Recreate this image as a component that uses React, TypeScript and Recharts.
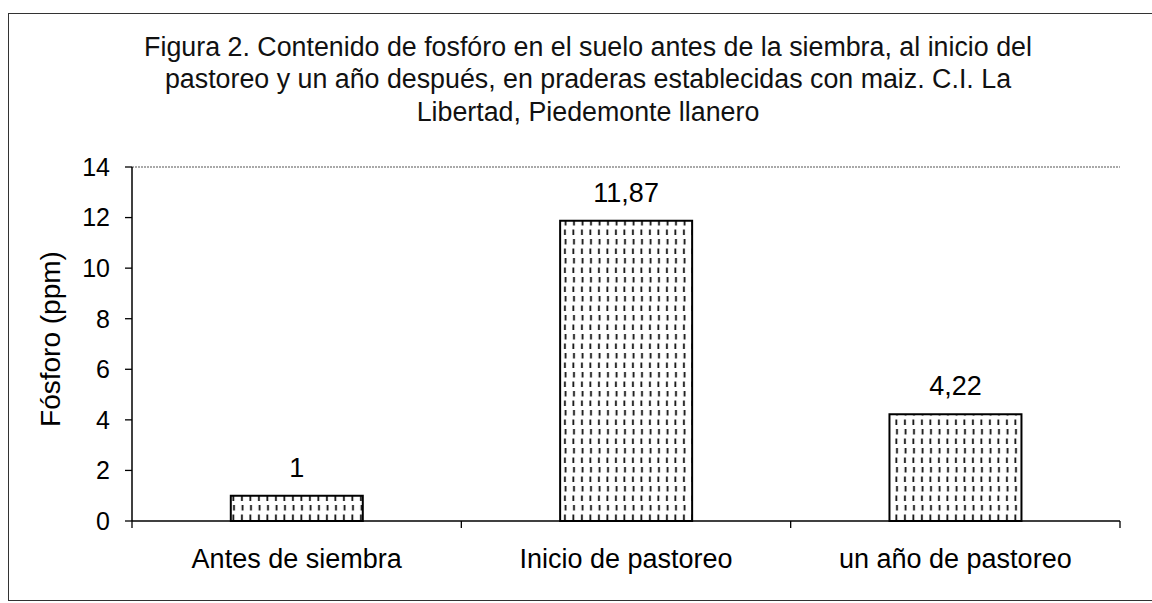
import React from 'react';
import { BarChart, Bar, XAxis, YAxis, LabelList, ReferenceLine } from 'recharts';

const categories = ['Antes de siembra', 'Inicio de pastoreo', 'un año de pastoreo'];
const fosforo = [1, 11.87, 4.22];
const yTicks = [0, 2, 4, 6, 8, 10, 12, 14];
const titleLines = [
  'Figura 2. Contenido de fosfóro en el suelo antes de la siembra, al inicio del',
  'pastoreo y un año después, en praderas establecidas con maiz. C.I. La',
  'Libertad, Piedemonte llanero',
];
const yLabel = 'Fósforo (ppm)';

const data = categories.map((c, i) => ({ name: c, value: fosforo[i] }));

const FONT = '"Liberation Sans", Arial, sans-serif';

const XTick = (props: any) => {
  const { x, y, payload, index } = props;
  const off = payload.offset || 0;
  const axisY = y - 8;
  return (
    <g>
      {index === 0 && (
        <line x1={x - off} x2={x - off} y1={axisY} y2={axisY + 7} stroke="#000" strokeWidth={1.3} />
      )}
      <line x1={x + off} x2={x + off} y1={axisY} y2={axisY + 7} stroke="#000" strokeWidth={1.3} />
      <text x={x} y={y} dy={39} textAnchor="middle" fontSize={27} fill="#000" fontFamily={FONT}>
        {payload.value}
      </text>
    </g>
  );
};

const YLabel = (props: any) => {
  const { viewBox } = props;
  const cx = 50;
  const cy = viewBox.y + viewBox.height / 2 - 5;
  return (
    <text
      x={cx}
      y={cy}
      transform={`rotate(-90, ${cx}, ${cy})`}
      textAnchor="middle"
      dominantBaseline="central"
      fontSize={28}
      fill="#000"
      fontFamily={FONT}
    >
      {yLabel}
    </text>
  );
};

export default function App() {
  return (
    <div style={{ position: 'absolute', left: 0, top: 0, width: 1152, height: 603, background: '#fff', overflow: 'hidden', fontFamily: FONT }}>
      <svg width={0} height={0} style={{ position: 'absolute' }}>
        <defs>
          <pattern id="dashes" patternUnits="userSpaceOnUse" width={8.5} height={19}>
            <rect x={0} y={0} width={8.5} height={19} fill="#fff" />
            <rect x={3} y={1.5} width={1.8} height={5.5} fill="#111" />
            <rect x={3.6} y={11} width={1.8} height={5.5} fill="#111" />
          </pattern>
        </defs>
      </svg>
      <div
        style={{
          position: 'absolute',
          left: 8,
          top: 13,
          width: 1160,
          height: 588,
          border: '1.5px solid #333',
          boxSizing: 'border-box',
        }}
      />
      <div
        style={{
          position: 'absolute',
          left: 8,
          top: 31,
          width: 1160,
          textAlign: 'center',
          fontSize: 26.8,
          lineHeight: '32.3px',
          color: '#111',
        }}
      >
        {titleLines.map((t, i) => (
          <div key={i}>{t}</div>
        ))}
      </div>
      <div style={{ position: 'absolute', left: 0, top: 0 }}>
        <BarChart
          width={1152}
          height={603}
          data={data}
          margin={{ top: 167, right: 32, left: 72, bottom: 52 }}
          barCategoryGap="30%"
        >
          <ReferenceLine y={14} stroke="#555" strokeDasharray="2 1" strokeWidth={1.2} ifOverflow="visible" />
          <XAxis
            dataKey="name"
            height={30}
            axisLine={{ stroke: '#000', strokeWidth: 1.5 }}
            tickLine={false}
            tick={<XTick />}
            interval={0}
          />
          <YAxis
            width={60}
            domain={[0, 14]}
            ticks={yTicks}
            interval={0}
            tickSize={7}
            tickMargin={15}
            axisLine={{ stroke: '#000', strokeWidth: 1.5 }}
            tickLine={{ stroke: '#000', strokeWidth: 1.3 }}
            tick={{ fontSize: 25, fill: '#000', fontFamily: FONT }}
            label={<YLabel />}
          />
          <YAxis
            yAxisId="r"
            orientation="right"
            width={0}
            domain={[0, 14]}
            tick={false}
            tickLine={false}
            axisLine={{ stroke: '#888', strokeDasharray: '3 2', strokeWidth: 1.2 }}
          />
          <Bar dataKey="value" fill="url(#dashes)" stroke="#000" strokeWidth={2} isAnimationActive={false}>
            <LabelList
              dataKey="value"
              position="top"
              offset={19}
              fontSize={27}
              fill="#000"
              fontFamily={FONT}
              formatter={(v: any) => String(v).replace('.', ',')}
            />
          </Bar>
        </BarChart>
      </div>
    </div>
  );
}
